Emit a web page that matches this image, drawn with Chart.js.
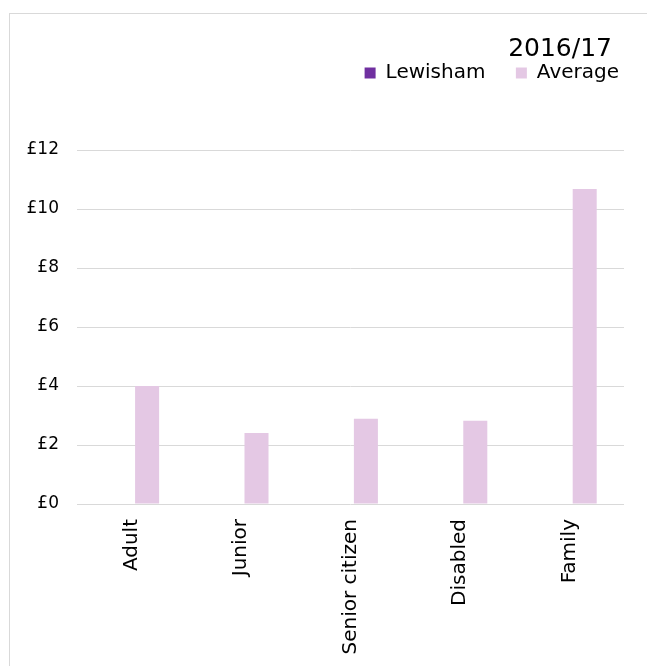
<!DOCTYPE html>
<html>
<head>
<meta charset="utf-8">
<script src="https://cdn.jsdelivr.net/npm/chart.js@4/dist/chart.umd.min.js"></script>
<style>
  body { margin: 0; background: #fff; overflow: hidden; }
  #frame { position: absolute; left: 9px; top: 13px; width: 700px; height: 700px; border: 1px solid #d9d9d9; }
  #chart { position: absolute; left: 0; top: 0; }
</style>
</head>
<body>
<div id="frame"></div>
<canvas id="chart" width="647" height="666"></canvas>
<script>
// Data
const categories = ['Adult', 'Junior', 'Senior citizen', 'Disabled', 'Family'];
const lewisham = [null, null, null, null, null];
const average = [4.0, 2.41, 2.89, 2.82, 10.68];
const yTicks = [0, 2, 4, 6, 8, 10, 12];
const chartTitle = '2016/17';

Chart.defaults.font.family = "'DejaVu Sans', Verdana, sans-serif";
Chart.defaults.color = '#000';

// nudge the title a bit left of the legend's right edge
const titleShift = {
    id: 'titleShift',
    afterLayout(chart){
        if(chart.titleBlock) chart.titleBlock.right -= 12;
    }
};

const ctx = document.getElementById('chart').getContext('2d');
new Chart(ctx, {
    type: 'bar',
    data: {
        labels: categories,
        datasets: [
            {label: 'Lewisham', data: lewisham, backgroundColor: '#7030a0'},
            {label: 'Average', data: average, backgroundColor: '#e4c8e4'}
        ]
    },
    options: {
        responsive: false,
        animation: false,
        categoryPercentage: 0.563,
        barPercentage: 0.78,
        layout: {padding: {left: 0, right: 23, top: 0, bottom: 0}},
        plugins: {
            title: {
                display: true, text: chartTitle, align: 'end',
                font: {size: 25, weight: 'normal'},
                padding: {top: 34, bottom: -6}
            },
            subtitle: {
                // spacer between legend and plot
                display: true, text: '', weight: 500,
                font: {size: 10, lineHeight: 1},
                padding: {top: 47, bottom: 0}
            },
            legend: {
                align: 'end',
                labels: {
                    boxWidth: 11, boxHeight: 11, padding: 5,
                    font: {size: 20},
                    generateLabels: chart => {
                        const items = Chart.defaults.plugins.legend.labels.generateLabels(chart);
                        items[0].text = items[0].text + '    ';
                        return items;
                    }
                }
            },
            tooltip: {enabled: false}
        },
        scales: {
            x: {
                grid: {display: false},
                border: {display: false},
                ticks: {font: {size: 20}, minRotation: 90, maxRotation: 90, autoSkip: false, padding: 7},
                afterFit: s => { s.height = 162; }
            },
            y: {
                min: yTicks[0], max: yTicks[yTicks.length - 1],
                grid: {color: '#d9d9d9', drawTicks: false},
                border: {display: false},
                ticks: {stepSize: 2, font: {size: 17}, padding: 18, callback: v => '£' + v},
                afterFit: s => { s.width = 77; }
            }
        }
    },
    plugins: [titleShift]
});
</script>
</body>
</html>
